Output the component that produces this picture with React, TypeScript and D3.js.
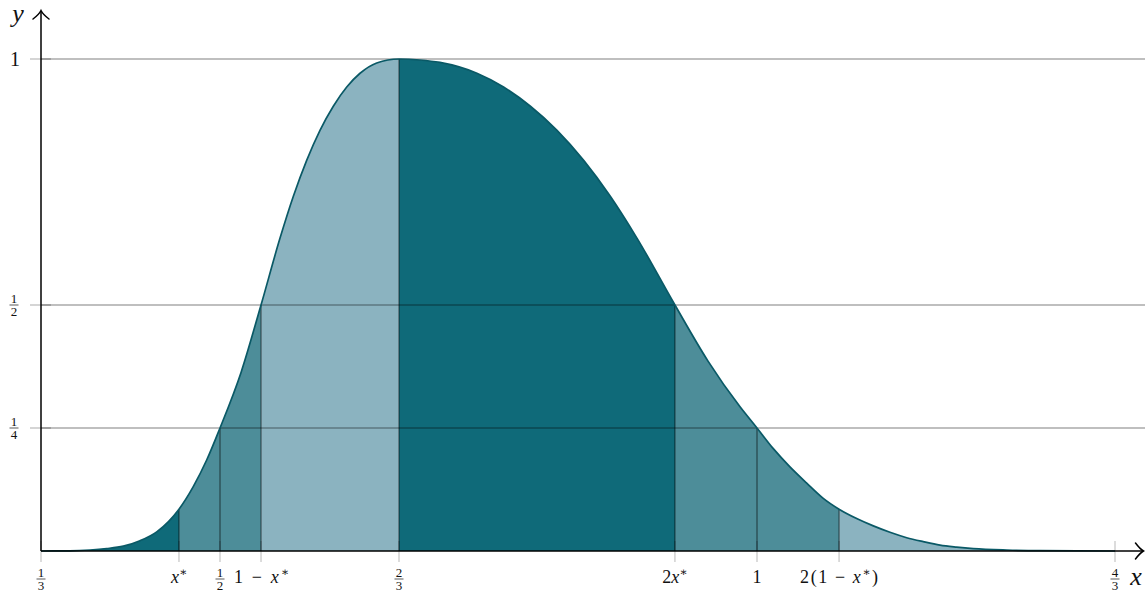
import React from "react";
import * as d3 from "d3";

// Curve samples (x, f(x)), piecewise: rising part on [1/3, 2/3], falling part on [2/3, 4/3]
const xStar = 0.4618;
const curveX = [
  1 / 3, 0.36, 0.379, 0.3945, 0.41, 0.4255, 0.4411, xStar, 0.4751, 0.4876, 0.5, 0.5196,
  1 - xStar, 0.5559, 0.5683, 0.5807, 0.5931, 0.6055, 0.618, 0.6304, 0.6459, 2 / 3,
  0.6862, 0.7048, 0.7392, 0.764, 0.789, 0.8138, 0.8386, 0.8634, 0.8882, 2 * xStar,
  0.9544, 0.9842, 1, 1.0152, 1.0307, 1.0463, 1.0617, 2 * (1 - xStar), 1.0928, 1.1083,
  1.1238, 1.1394, 1.1548, 1.1704, 1.1859, 1.2014, 1.2325, 1.2635, 4 / 3,
];
const curveY = [
  0, 0.0003, 0.002, 0.005, 0.01, 0.021, 0.039, 0.085, 0.131, 0.185, 0.25, 0.363,
  0.5, 0.636, 0.721, 0.794, 0.855, 0.904, 0.943, 0.971, 0.992, 1,
  0.998, 0.993, 0.971, 0.943, 0.904, 0.855, 0.794, 0.721, 0.636, 0.5,
  0.386, 0.293, 0.25, 0.208, 0.171, 0.138, 0.107, 0.085, 0.066, 0.051,
  0.038, 0.027, 0.019, 0.012, 0.008, 0.005, 0.002, 0.0006, 0,
];

// Segment boundaries and their shading
const bounds = [1 / 3, xStar, 1 / 2, 1 - xStar, 2 / 3, 2 * xStar, 1, 2 * (1 - xStar), 4 / 3];
const shades = ["dark", "mid", "mid", "light", "dark", "mid", "mid", "light"];
const shadeColor: Record<string, string> = {
  dark: "#0f6a79",
  mid: "#4d8d99",
  light: "#8bb3c0",
};

// Horizontal reference levels
const levels = [0.25, 0.5, 1];

const W = 1145;
const H = 597;
const FONT = "Liberation Serif, Tinos, DejaVu Serif, serif";

function Frac({ x, y, num, den, size = 13 }: { x: number; y: number; num: string; den: string; size?: number }) {
  return (
    <g style={{ fontFamily: FONT }} fontSize={size} textAnchor="middle" fill="#111">
      <text x={x} y={y - 2.5}>{num}</text>
      <line x1={x - 4.5} x2={x + 4.5} y1={y} y2={y} stroke="#111" strokeWidth={0.7} />
      <text x={x} y={y + 11}>{den}</text>
    </g>
  );
}

function Star() {
  return (
    <tspan fontSize={12} dy={-7} fontStyle="normal">∗</tspan>
  );
}

export default function App() {
  const x = d3.scaleLinear().domain([1 / 3, 4 / 3]).range([41, 1115]);
  const y = d3.scaleLinear().domain([0, 1]).range([551, 59]);

  const pts: [number, number][] = curveX.map((v, i) => [v, curveY[i]]);
  const area = d3
    .area<[number, number]>()
    .x((d) => x(d[0]))
    .y0(y(0))
    .y1((d) => y(d[1]))
    .curve(d3.curveMonotoneX);
  const line = d3
    .line<[number, number]>()
    .x((d) => x(d[0]))
    .y((d) => y(d[1]))
    .curve(d3.curveMonotoneX);
  const areaPath = area(pts) || "";
  const linePath = line(pts) || "";

  const valueAt = (b: number) => {
    const i = curveX.findIndex((v) => Math.abs(v - b) < 1e-9);
    return i >= 0 ? curveY[i] : 0;
  };

  const x0 = x(1 / 3);
  const axisY = y(0);

  return (
    <svg width={W} height={H} style={{ position: "absolute", left: 0, top: 0 }} xmlns="http://www.w3.org/2000/svg">
      <defs>
        {shades.map((_, i) => (
          <clipPath id={`seg${i}`} key={i}>
            <rect x={x(bounds[i])} y={0} width={x(bounds[i + 1]) - x(bounds[i])} height={H} />
          </clipPath>
        ))}
      </defs>

      {/* shaded segments under the curve */}
      {shades.map((s, i) => (
        <path key={i} d={areaPath} fill={shadeColor[s]} clipPath={`url(#seg${i})`} />
      ))}

      {/* y ticks and horizontal levels */}
      {levels.map((l) => (
        <g key={l}>
          <line x1={30} x2={51} y1={y(l)} y2={y(l)} stroke="#000" strokeOpacity={0.28} strokeWidth={1.2} />
          <line x1={x0} x2={W} y1={y(l)} y2={y(l)} stroke="#000" strokeOpacity={0.5} strokeWidth={1.2} />
        </g>
      ))}

      {/* x ticks */}
      {bounds.map((b, i) => (
        <line key={i} x1={x(b)} x2={x(b)} y1={axisY - 10} y2={axisY + 11} stroke="#000" strokeOpacity={0.28} strokeWidth={1} />
      ))}

      {/* segment separators */}
      {bounds.slice(1, -1).map((b, i) => (
        <line key={i} x1={x(b)} x2={x(b)} y1={axisY} y2={y(valueAt(b))} stroke="#000" strokeOpacity={0.62} strokeWidth={1} />
      ))}

      {/* curve */}
      <path d={linePath} fill="none" stroke="#0a5966" strokeWidth={1.7} />

      {/* axes */}
      <line x1={x0} x2={1143} y1={axisY} y2={axisY} stroke="#000" strokeWidth={1.5} />
      <line x1={x0} x2={x0} y1={axisY} y2={11} stroke="#000" strokeWidth={1.5} />
      <path d={`M${1135.5},${axisY - 8} Q${1140},${axisY - 2} ${1143.5},${axisY} Q${1140},${axisY + 2} ${1135.5},${axisY + 8}`} fill="none" stroke="#000" strokeWidth={1.5} strokeLinecap="round" />
      <path d={`M${x0 - 8},${19} Q${x0 - 2},${14.5} ${x0},${10.5} Q${x0 + 2},${14.5} ${x0 + 8},${19}`} fill="none" stroke="#000" strokeWidth={1.5} strokeLinecap="round" />

      <g style={{ fontFamily: FONT }} fill="#111">
        {/* axis names */}
        <text x={18} y={22} fontStyle="italic" fontSize={26} textAnchor="middle">y</text>
        <text x={1136} y={585} fontStyle="italic" fontSize={26} textAnchor="middle">x</text>

        {/* y label at the top level */}
        <text x={15} y={66} fontSize={20} textAnchor="middle">1</text>
      </g>

      <Frac x={14} y={y(0.5)} num="1" den="2" />
      <Frac x={14} y={y(0.25)} num="1" den="4" />

      {/* x labels */}
      <Frac x={x(1 / 3)} y={579} num="1" den="3" />
      <Frac x={x(1 / 2)} y={579} num="1" den="2" />
      <Frac x={x(2 / 3)} y={579} num="2" den="3" />
      <Frac x={x(4 / 3)} y={579} num="4" den="3" />
      <g style={{ fontFamily: FONT }} fontSize={18} textAnchor="middle" fill="#111">
        <text x={x(xStar)} y={583}>
          <tspan fontStyle="italic">x</tspan>
          <Star />
        </text>
        <text x={x(1 - xStar) + 0.5} y={583} textLength={55} lengthAdjust="spacing">
          1 − <tspan fontStyle="italic">x</tspan>
          <Star />
        </text>
        <text x={x(2 * xStar)} y={583}>
          2<tspan fontStyle="italic">x</tspan>
          <Star />
        </text>
        <text x={x(1)} y={583}>1</text>
        <text x={x(2 * (1 - xStar))} y={583} textLength={78} lengthAdjust="spacing">
          2(1 − <tspan fontStyle="italic">x</tspan>
          <Star />
          <tspan dy={7}>)</tspan>
        </text>
      </g>
    </svg>
  );
}
